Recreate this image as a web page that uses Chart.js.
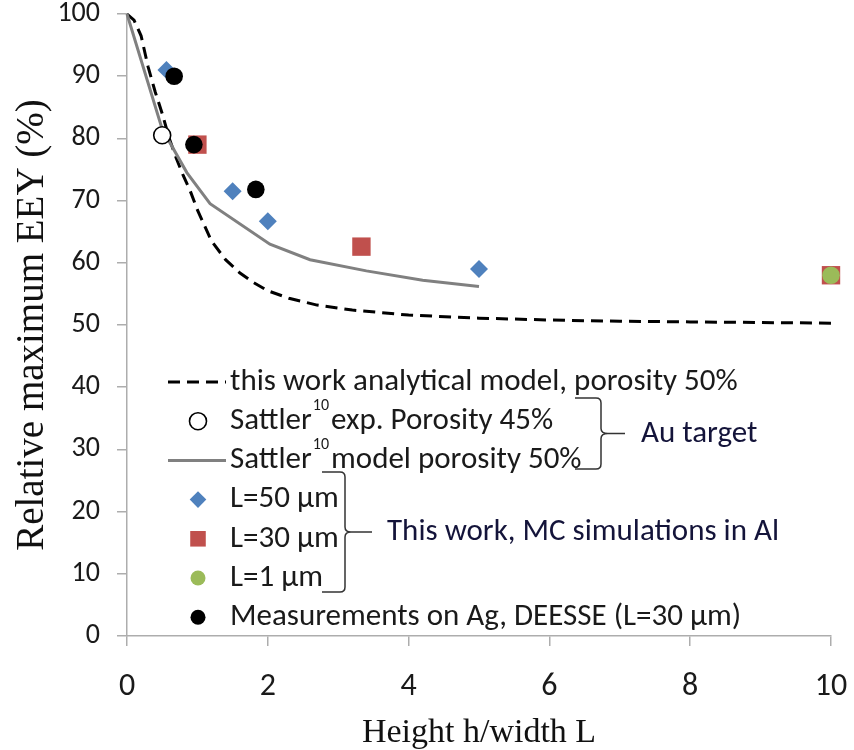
<!DOCTYPE html>
<html>
<head>
<meta charset="utf-8">
<script src="https://cdn.jsdelivr.net/npm/chart.js@4.4.1/dist/chart.umd.min.js"></script>
<style>
  html, body { margin: 0; padding: 0; background: #fff; }
  #chart { display: block; }
</style>
</head>
<body>
<canvas id="chart" width="854" height="750"></canvas>
<script>
// this work, analytical model (porosity 50%)
const modelX = [0, 0.1, 0.2, 0.3, 0.4, 0.5, 0.6, 0.7, 0.8, 0.9, 1.0, 1.2, 1.4, 1.6, 1.8, 2.0, 2.3, 2.7, 3.2, 4, 5, 6, 7, 8, 9, 10];
const modelY = [100, 99, 96.5, 91.5, 87.5, 84, 80, 76.8, 74, 71.5, 68.5, 63.5, 60.5, 58.4, 56.8, 55.5, 54.3, 53.2, 52.4, 51.6, 51.1, 50.8, 50.6, 50.5, 50.4, 50.3];

// Sattler model, porosity 50%
const sattlerModelX = [0, 0.5, 0.85, 1.18, 2.03, 2.6, 3.4, 4.2, 5.0];
const sattlerModelY = [100, 81.5, 74.5, 69.5, 63, 60.5, 58.7, 57.2, 56.2];

// Sattler experiment, porosity 45%
const sattlerExpX = [0.5];
const sattlerExpY = [80.5];

// MC simulations in Al
const l50X = [0.56, 1.5, 2.0, 5.0, 10];
const l50Y = [91, 71.5, 66.7, 59, 58];
const l30X = [1.0, 3.33, 10];
const l30Y = [79, 62.6, 58];
const l1X = [10];
const l1Y = [58];

// measurements on Ag, DEESSE
const deesseX = [0.67, 0.95, 1.83];
const deesseY = [90, 79, 71.8];

const legendLabels = [
  ['this work analytical model, porosity 50%'],
  ['Sattler', '10', 'exp. Porosity 45%'],
  ['Sattler', '10', 'model porosity 50%'],
  ['L=50 µm'],
  ['L=30 µm'],
  ['L=1 µm'],
  ['Measurements on Ag, DEESSE (L=30 µm)']
];
const groupLabels = ['Au target', 'This work, MC simulations in Al'];

const pts = (xs, ys) => xs.map((x, i) => ({ x, y: ys[i] }));

const BLUE = '#4F81BD', RED = '#C0504D', GREEN = '#9BBB59', GREY = '#808080';
const AXIS = '#ADADAD';
const SANS = 'Carlito, Lato, sans-serif';
const SERIF = '"Liberation Serif", "Times New Roman", serif';
const DASH = [12, 7];
const LEGEND_FONT = 31;

const datasets = [
  { label: legendLabels[0], data: pts(modelX, modelY), showLine: true, borderColor: '#000', borderWidth: 3,
    borderDash: DASH, pointRadius: 0, order: 6 },
  { label: legendLabels[1], data: pts(sattlerExpX, sattlerExpY), pointStyle: 'circle', pointRadius: 8.5,
    backgroundColor: '#fff', borderColor: '#000', pointBorderWidth: 1.6, order: 1, legendRadius: 8.5 },
  { label: legendLabels[2], data: pts(sattlerModelX, sattlerModelY), showLine: true, borderColor: GREY, borderWidth: 3,
    pointRadius: 0, order: 5 },
  { label: legendLabels[3], data: pts(l50X, l50Y), pointStyle: 'rectRot', pointRadius: 9,
    backgroundColor: BLUE, borderColor: BLUE, pointBorderWidth: 0, order: 4, legendRadius: 8.3 },
  { label: legendLabels[4], data: pts(l30X, l30Y), pointStyle: 'rect', pointRadius: 13,
    backgroundColor: RED, borderColor: RED, pointBorderWidth: 0, order: 3, legendRadius: 11 },
  { label: legendLabels[5], data: pts(l1X, l1Y), pointStyle: 'circle', pointRadius: 8.8,
    backgroundColor: GREEN, borderColor: GREEN, pointBorderWidth: 0, order: 2, legendRadius: 7.5 },
  { label: legendLabels[6], data: pts(deesseX, deesseY), pointStyle: 'circle', pointRadius: 8.8,
    backgroundColor: '#000', borderColor: '#000', pointBorderWidth: 0, order: 0, legendRadius: 7.5 }
];
datasets.forEach(d => { d.clip = false; });

// curly brace with a short lead line out of its tip
function brace(ctx, xl, xv, top, bottom, tip, lineEnd) {
  const mid = (top + bottom) / 2, r = 5;
  ctx.beginPath();
  ctx.moveTo(xl, top);
  ctx.lineTo(xv - r, top);
  ctx.quadraticCurveTo(xv, top, xv, top + r);
  ctx.lineTo(xv, mid - r);
  ctx.quadraticCurveTo(xv, mid, tip, mid);
  ctx.quadraticCurveTo(xv, mid, xv, mid + r);
  ctx.lineTo(xv, bottom - r);
  ctx.quadraticCurveTo(xv, bottom, xv - r, bottom);
  ctx.lineTo(xl, bottom);
  ctx.moveTo(tip, mid);
  ctx.lineTo(lineEnd, mid);
  ctx.stroke();
}

// in-plot legend with braces grouping the entries
const legendPlugin = {
  id: 'bracedLegend',
  afterDraw(chart) {
    const ctx = chart.ctx;
    const symX = 198, textX = 230, rowY = 382, rowGap = 39.2;
    ctx.save();
    chart.data.datasets.forEach((ds, i) => {
      const y = rowY + i * rowGap;
      if (ds.showLine) {
        ctx.strokeStyle = ds.borderColor;
        ctx.lineWidth = ds.borderWidth;
        ctx.setLineDash(ds.borderDash || []);
        ctx.beginPath();
        ctx.moveTo(168, y);
        ctx.lineTo(226, y);
        ctx.stroke();
        ctx.setLineDash([]);
      } else {
        ctx.fillStyle = ds.backgroundColor;
        ctx.strokeStyle = ds.borderColor;
        ctx.lineWidth = ds.pointBorderWidth;
        Chart.helpers.drawPoint(ctx, {
          pointStyle: ds.pointStyle, radius: ds.legendRadius, borderWidth: ds.pointBorderWidth
        }, symX, y);
      }
      ctx.fillStyle = '#1a1a1a';
      ctx.textBaseline = 'middle';
      ctx.textAlign = 'left';
      const parts = ds.label;
      ctx.font = `${LEGEND_FONT}px ${SANS}`;
      let x = textX;
      ctx.fillText(parts[0], x, y);
      if (parts.length > 1) {
        x += ctx.measureText(parts[0]).width + 1;
        ctx.font = `16px ${SANS}`;
        ctx.fillText(parts[1], x, y - 15);
        x += ctx.measureText(parts[1]).width + 2;
        ctx.font = `${LEGEND_FONT}px ${SANS}`;
        ctx.fillText(parts[2], x, y);
      }
    });

    ctx.strokeStyle = '#333';
    ctx.lineWidth = 1.5;
    brace(ctx, 575, 601, 398, 469, 608, 625);
    brace(ctx, 322, 345, 472, 592, 351, 372);

    ctx.fillStyle = '#14143a';
    ctx.font = `${LEGEND_FONT}px ${SANS}`;
    ctx.fillText(groupLabels[0], 641, 434);
    ctx.fillText(groupLabels[1], 387, 532);
    ctx.restore();
  }
};

new Chart(document.getElementById('chart'), {
  type: 'scatter',
  data: { datasets },
  options: {
    responsive: false,
    animation: false,
    devicePixelRatio: 1,
    layout: { padding: { top: 14, right: 23, left: 0, bottom: 0 } },
    plugins: { legend: { display: false }, tooltip: { enabled: false } },
    scales: {
      x: {
        type: 'linear', min: 0, max: 10,
        afterFit: s => { s.height = 114; s.paddingLeft = 0; s.paddingRight = 0; },
        ticks: { stepSize: 2, color: '#1a1a1a', padding: 25, font: { family: SANS, size: 32, lineHeight: 1 } },
        grid: { drawOnChartArea: false, tickLength: 10, color: AXIS, lineWidth: 1.5 },
        border: { color: AXIS, width: 1.5 },
        title: { display: true, text: 'Height h/width L', color: '#111',
          font: { family: SERIF, size: 34, lineHeight: 1 }, padding: { top: 0, bottom: 0 } }
      },
      y: {
        min: 0, max: 100,
        afterFit: s => { s.width = 127; s.paddingTop = 0; s.paddingBottom = 0; },
        ticks: { stepSize: 10, color: '#1a1a1a', padding: 17, font: { family: SANS, size: 28 } },
        grid: { drawOnChartArea: false, tickLength: 10, color: AXIS, lineWidth: 1.5 },
        border: { color: AXIS, width: 1.5 },
        title: { display: true, text: 'Relative maximum EEY (%)', color: '#111',
          font: { family: SERIF, size: 39, lineHeight: 1 }, padding: { top: 13, bottom: 0 } }
      }
    }
  },
  plugins: [legendPlugin]
});
</script>
</body>
</html>
